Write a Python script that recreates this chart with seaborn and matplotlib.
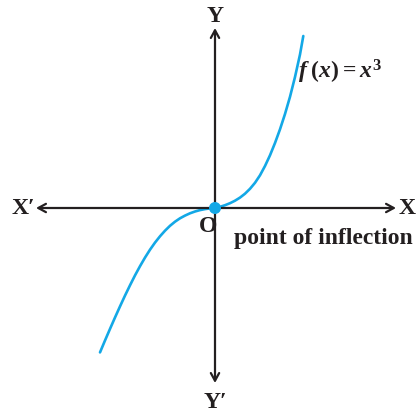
"""
Graph of f(x) = x^3 showing the point of inflection at the origin.
"""
import matplotlib
matplotlib.use("Agg")
import matplotlib.pyplot as plt
import pandas as pd
import seaborn as sns

# curve (units: pixels from the origin, y up)
curve_x = [-115, -110, -105, -100, -95, -90, -85, -80, -75, -70, -65, -60,
           -55, -50, -45, -40, -35, -30, -25, -20, -15, -10, -5, 0,
           5, 10, 15, 20, 25, 30, 35, 40, 45, 50, 55, 60, 65, 70, 75,
           80, 85, 88.3]
curve_y = [-144.4, -132.5, -120.9, -109.5, -98.4, -87.6, -77.3, -67.4,
           -58.2, -49.6, -41.7, -34.6, -28.3, -22.7, -17.8, -13.7, -10.3,
           -7.6, -5.3, -3.5, -2.1, -1.1, -0.4, 0,
           1.2, 2.8, 4.8, 7.3, 10.4, 14.3, 19.2, 25.2, 32.7, 42, 52.7, 65,
           78.7, 94, 111.2, 131, 153.5, 172]

inflection_x = [0]
inflection_y = [0]

axis_labels = ["X", "X\u2032", "Y", "Y\u2032"]
curve_label = r"$f\;(x) = x^{3}$"
point_label = "point of inflection"
origin_label = "O"

sns.set_style("white")
plt.rcParams["font.family"] = ["Liberation Serif", "DejaVu Serif"]
plt.rcParams["mathtext.fontset"] = "custom"
plt.rcParams["mathtext.it"] = "Liberation Serif:italic:bold"
plt.rcParams["mathtext.rm"] = "Liberation Serif:bold"

BLUE = "#13a8e6"
INK = "#231f20"

fig = plt.figure(figsize=(4.17, 4.12), dpi=100)
ax = fig.add_axes([0, 0, 1, 1])
ax.set_xlim(-215, 202)
ax.set_ylim(-204, 208)
ax.axis("off")

# axes with open arrow heads at both ends
arrow = dict(arrowstyle="->,head_length=0.55,head_width=0.3", lw=1.6,
             color=INK, shrinkA=0, shrinkB=0)
ax.annotate("", xy=(181, 0), xytext=(0, 0), arrowprops=arrow)
ax.annotate("", xy=(-179, 0), xytext=(0, 0), arrowprops=arrow)
ax.annotate("", xy=(0, 180), xytext=(0, 0), arrowprops=arrow)
ax.annotate("", xy=(0, -175), xytext=(0, 0), arrowprops=arrow)

df = pd.DataFrame({"x": curve_x, "y": curve_y})
sns.lineplot(data=df, x="x", y="y", sort=False, color=BLUE, lw=1.9,
             solid_joinstyle="round", ax=ax)
sns.scatterplot(x=inflection_x, y=inflection_y, color=BLUE, s=75,
                edgecolor="none", zorder=5, ax=ax)

lab = dict(fontsize=17, fontweight="bold", color=INK,
           ha="center", va="center")
ax.text(192, 0, axis_labels[0], **lab)
ax.text(-192, 0, axis_labels[1], **lab)
ax.text(0, 192, axis_labels[2], **lab)
ax.text(0, -194, axis_labels[3], **lab)
ax.text(-7, -18, origin_label, **lab)
ax.text(19, -30, point_label, fontsize=17, fontweight="bold",
        color=INK, ha="left", va="center")
ax.text(83, 136, curve_label, fontsize=17, color=INK,
        ha="left", va="center")

fig.savefig("out.png", dpi=100)
